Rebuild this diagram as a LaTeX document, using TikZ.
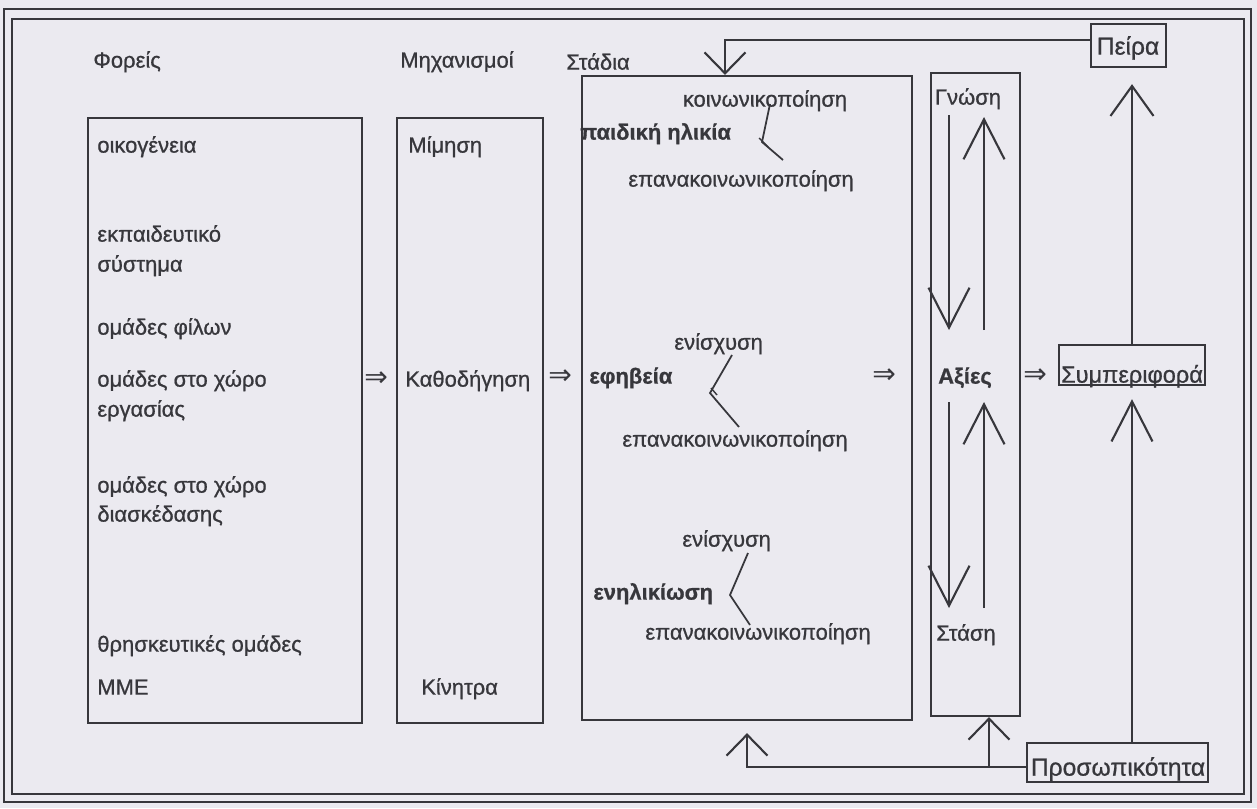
\documentclass[tikz,border=0pt]{standalone}
\usepackage{fontspec}
\setmainfont{Liberation Sans}
\newfontfamily\scanfont{Liberation Sans}[FakeBold=0.8]
\newfontfamily\arrowfont{DejaVu Sans}
\usetikzlibrary{arrows.meta,fit,calc}
\definecolor{bg}{RGB}{235,234,240}
\definecolor{ink}{RGB}{55,55,60}
\begin{document}
\begin{tikzpicture}[x=0.02cm,y=-0.02cm,
  every node/.style={text=ink, font=\scanfont\fontsize{12.5}{17}\selectfont, inner sep=0pt},
  box/.style={draw=ink, line width=1.3pt, inner sep=0pt},
  lbl/.style={anchor=mid west},
  clbl/.style={anchor=mid},
  bf/.style={font=\scanfont\fontsize{12.5}{17}\selectfont\bfseries},
  big/.style={font=\scanfont\fontsize{14}{17}\selectfont},
  conn/.style={draw=ink, line width=1.2pt},
  longarr/.style={conn, -{Straight Barb[length=0.8cm, width=0.82cm, line width=1.2pt]}},
  medarr/.style={conn, -{Straight Barb[length=0.6cm, width=0.86cm, line width=1.2pt]}},
  shortarr/.style={conn, -{Straight Barb[length=0.42cm, width=0.82cm, line width=1.2pt]}},
  dblarr/.style={font=\arrowfont\fontsize{16}{17}\selectfont, anchor=mid west}
]
\fill[bg] (0,0) rectangle (1257,808);
\useasboundingbox (0,0) rectangle (1257,808);
% frame
\draw[ink, line width=0.9pt] (4,9) rectangle (1251,802);
\draw[ink, line width=0.9pt] (12,19) rectangle (1244,794);

% boxes
\node[box, fit={(88,118)(362,723)}] (foreis) {};
\node[box, fit={(397,118)(543,723)}] (mech) {};
\node[box, fit={(582,76)(912,720)}] (stadia) {};
\node[box, fit={(931,73)(1020,716)}] (values) {};
\node[box, fit={(1091,24)(1166,67)}] (peira) {};
\node[box, fit={(1059,345)(1205,385)}] (symp) {};
\node[box, fit={(1027,743)(1208,782)}] (pros) {};

% titles
\node[lbl] (tF) at (93,63) {Φορείς};
\node[lbl] (tM) at (400,63) {Μηχανισμοί};
\node[lbl] (tS) at (566,65) {Στάδια};

% Foreis
\node[lbl] (f1) at (97,148) {οικογένεια};
\node[lbl] (f2a) at (97,237) {εκπαιδευτικό};
\node[lbl] (f2b) at (97,267) {σύστημα};
\node[lbl] (f3) at (97,330) {ομάδες φίλων};
\node[lbl] (f4a) at (97,382) {ομάδες στο χώρο};
\node[lbl] (f4b) at (97,412) {εργασίας};
\node[lbl] (f5a) at (97,488) {ομάδες στο χώρο};
\node[lbl] (f5b) at (97,517) {διασκέδασης};
\node[lbl] (f6) at (97,647) {θρησκευτικές ομάδες};
\node[lbl] (f7) at (97,690) {ΜΜΕ};

% mechanisms
\node[lbl] (m1) at (408,148) {Μίμηση};
\node[lbl] (m2) at (405,382) {Καθοδήγηση};
\node[lbl] (m3) at (421,690) {Κίνητρα};

% double arrows
\node[dblarr] (d1) at (364,382) {⇒};
\node[dblarr] (d2) at (548,380) {⇒};
\node[dblarr] (d3) at (872,379) {⇒};
\node[dblarr] (d4) at (1023,379) {⇒};

% stages
\node[clbl] (s1) at (765,102) {κοινωνικοποίηση};
\node[lbl, bf] (s2) at (580,135) {παιδική ηλικία};
\node[lbl] (s3) at (628,182) {επανακοινωνικοποίηση};
\node[lbl] (s4) at (674,345) {ενίσχυση};
\node[lbl, bf] (s5) at (589,379) {εφηβεία};
\node[lbl] (s6) at (622,442) {επανακοινωνικοποίηση};
\node[lbl] (s7) at (682,542) {ενίσχυση};
\node[lbl, bf] (s8) at (593,595) {ενηλικίωση};
\node[lbl] (s9) at (645,635) {επανακοινωνικοποίηση};

% brackets
\draw[conn, line width=1pt] (770,104) -- (762,142) -- (783,160);
\draw[conn, line width=0.8pt] (759,138) -- (768,147);
\draw[conn, line width=1pt] (732,355) -- (710,393) -- (739,427);
\draw[conn, line width=0.8pt] (711,388) -- (717,395);
\draw[conn, line width=1pt] (748,553) -- (730,595) -- (750,625);

% values
\node[clbl] (v1) at (968,100) {Γνώση};
\node[clbl, bf] (v2) at (965,379) {Αξίες};
\node[clbl] (v3) at (966,636) {Στάση};
\coordinate (g1) at (949,115);
\coordinate (g2) at (949,330);
\coordinate (g3) at (984,330);
\coordinate (g4) at (984,117);
\coordinate (h1) at (949,402);
\coordinate (h2) at (949,608);
\coordinate (h3) at (984,608);
\coordinate (h4) at (984,402);
\draw[longarr] (g1) -- (g2);
\draw[longarr] (g3) -- (g4);
\draw[longarr] (h1) -- (h2);
\draw[longarr] (h3) -- (h4);

% right column labels
\node[clbl, big] (pT) at (1128,50) {Πείρα};
\node[clbl, font=\scanfont\fontsize{13.4}{17}\selectfont] (sT) at (1132,378) {Συμπεριφορά};
\node[clbl, big] (prT) at (1118,771) {Προσωπικότητα};

% connectors
\coordinate (pk) at (725,40);
\draw[shortarr] (peira.west |- pk) -- (pk) -- (pk |- stadia.north);
\draw[medarr, shorten >=0.32cm] (symp.north) -- (symp.north |- peira.south);
\draw[longarr, shorten >=0.26cm] (pros.north -| symp.north) -- (symp.south);
\coordinate (pl) at (751,767);
\draw[shortarr, shorten >=0.24cm] (pros.west |- pl) -- (stadia.south |- pl) -- (stadia.south);
\coordinate (vb) at (989,767);
\draw[shortarr] (vb) -- (vb |- values.south);
\end{tikzpicture}
\end{document}
